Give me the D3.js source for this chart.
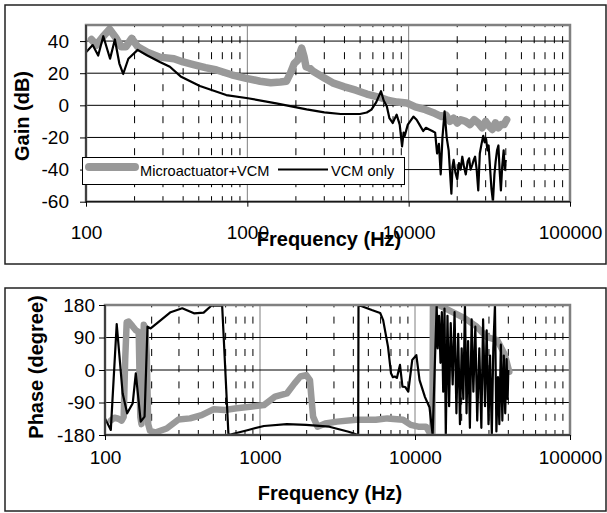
<!DOCTYPE html>
<html>
<head>
<meta charset="utf-8">
<script src="https://cdn.jsdelivr.net/npm/d3@7/dist/d3.min.js"></script>
<style>
  body { margin: 0; background: #fff; }
  text { font-family: "Liberation Sans", Arial, sans-serif; fill: #000; }
</style>
</head>
<body>
<svg id="chart" width="607" height="513"></svg>
<script>
// gain (dB) of the microactuator + VCM loop
const gainMicroFreq = [108, 116, 128, 140, 154, 165, 177, 192, 209, 240, 287, 351, 400, 463, 550, 645, 800, 985, 1200, 1397, 1600, 1749, 1850, 1951, 2050, 2170, 2250, 2310, 2450, 2570, 3000, 3380, 4000, 4700, 5500, 6600, 7500, 8500, 9700, 11000, 12700, 14500, 16000, 17000, 18000, 19000, 20000, 21000, 22500, 24000, 25500, 27000, 28500, 30000, 31500, 33000, 34500, 36000, 37500, 39000, 40500];
const gainMicro = [41, 37.5, 43, 47.3, 41.7, 36.5, 36.5, 41.7, 36.5, 33, 30, 29, 27, 25.4, 23.5, 22, 19, 16.8, 15, 14, 14.5, 15, 20, 26, 28, 35.6, 30, 24, 23, 21, 17, 14, 11.5, 9.4, 7, 5, 3, 2, 1.5, -1, -2.7, -5, -7, -6, -10, -8, -11, -9, -10, -12, -9, -11, -14, -10, -13, -15, -11, -14, -12, -12, -9];

// gain (dB) of the VCM alone
const gainVcmFreq = [100, 110, 119, 128, 141, 151, 161, 170, 183, 209, 240, 287, 331, 386, 508, 740, 1008, 1510, 2330, 3000, 3790, 4990, 5500, 5880, 6300, 6740, 7000, 7320, 7600, 7960, 8420, 8800, 9100, 9300, 9450, 9880, 10700, 11200, 11670, 12300, 12800, 13400, 14000, 14590, 15000, 15400, 15800, 16200, 16700, 17200, 17700, 18100, 18400, 18700, 19000, 19500, 20000, 20500, 21000, 21500, 22000, 22600, 23200, 23700, 24200, 24800, 25300, 25800, 26400, 27000, 27600, 28300, 29000, 29600, 30200, 30800, 31300, 32000, 32600, 33300, 34000, 34600, 35300, 36000, 36600, 37300, 38000, 38800, 39400, 40000];
const gainVcm = [33, 37.5, 31, 43, 29, 41, 26, 19.5, 29, 34.5, 31, 27, 24, 18, 12, 6.4, 4.4, 1.2, -2.5, -4.4, -5.4, -5.4, -4.5, -2.7, 2, 8.8, 3, -0.6, -8, -11, -5.8, -12, -25.6, -17, -19, -12, -7, -9, -12, -16, -14, -15, -16, -17, -30, -24, -43, -20, -3.8, -20, -28, -44, -55, -38, -34, -42, -46, -36, -40, -32, -38, -43, -35, -33, -40, -37, -34, -32, -40, -53, -30, -24, -19, -23, -21, -28, -25, -40, -52, -60, -43, -35, -28, -25, -40, -53, -38, -28, -40, -34];

// phase (degree) of the microactuator + VCM loop
const phaseMicroFreq = [109, 115, 122, 128, 132, 135, 138, 142, 150, 158, 165, 169, 172, 175, 178, 182, 186, 190, 195, 211, 250, 298, 354, 420, 500, 594, 707, 891, 1060, 1250, 1490, 1670, 1820, 1990, 2100, 2150, 2200, 2350, 2640, 3140, 4180, 5580, 6640, 8370, 9380, 10500, 11800, 12600, 12950, 13050, 14300, 16500, 21000, 25000, 28900, 33900, 38000, 40600];
const phaseMicro = [-140, -132, -135, -140, -130, 30, 132, 134, 122, 110, 105, -130, -150, 0, 125, 115, 40, -150, -168, -173, -162, -137, -134, -125, -109, -111, -106, -101, -97, -74, -65, -37, -18, -14, -28, -80, -129, -157, -148, -143, -138, -138, -134, -138, -152, -157, -157, -178, -180, 180, 180, 166, 143, 120, 92, 83, 42, -5];

// phase (degree) of the VCM alone
const phaseVcmFreq = [100, 109, 119, 130, 139, 151, 158, 170, 180, 188, 197, 223, 265, 315, 375, 433, 485, 545, 570, 626, 840, 1060, 1490, 1980, 2800, 3730, 4300, 4320, 5260, 5960, 6230, 6700, 7000, 7200, 7400, 7640, 8000, 8300, 8640, 9050, 9600, 10200, 10700, 11600, 12400, 13000, 13800, 14000, 14300, 14600, 14900, 15200, 15500, 15800, 16200, 16600, 17000, 17500, 18000, 18500, 19000, 19500, 20000, 20500, 21000, 21500, 22000, 22600, 23200, 23800, 24500, 25200, 26000, 26800, 27500, 28300, 29000, 29800, 30500, 31300, 32000, 32800, 33500, 34300, 35000, 35800, 36600, 37400, 38200, 39000, 39600, 40000];
const phaseVcm = [-134, -166, 127, -65, -120, -92, -9, -143, -129, 120, 115, 134, 160, 171, 157, 159, 178, 178, 178, -180, -166, -155, -150, -152, -157, -171, -180, 180, 166, 158, 138, 64, -9, -20, -18, -22, 14, -46, -47, -60, 28, 41, -28, -75, -103, -180, 180, 60, 150, 20, 160, -60, 170, -180, 150, -100, 130, -40, 160, -120, 100, -150, 60, -80, 180, -120, 80, -160, 140, -60, 120, -140, 60, -160, 140, -100, 110, -150, 40, -180, 60, 180, -170, -20, -150, 70, -140, 40, -120, 30, -80, 0];

const freqTicks = [100, 1000, 10000, 100000];
const gainTicks = [-60, -40, -20, 0, 20, 40];
const phaseTicks = [-180, -90, 0, 90, 180];
const seriesNames = ["Microactuator+VCM", "VCM only"];

const svg = d3.select("#chart");
const gray = "#999999";

// outer frames of the two chart objects
svg.append("rect").attr("x", 5).attr("y", 5).attr("width", 601).attr("height", 259)
  .attr("fill", "none").attr("stroke", "#222").attr("stroke-width", 1.5);
svg.append("rect").attr("x", 5).attr("y", 288).attr("width", 601).attr("height", 223)
  .attr("fill", "none").attr("stroke", "#222").attr("stroke-width", 1.5);

function drawPanel(p) {
  const x = d3.scaleLog().domain([100, 100000]).range([p.left, p.right]);
  const y = d3.scaleLinear().domain(p.yDomain).range([p.bottom, p.top]);
  const g = svg.append("g");

  // minor gridlines (dashed)
  const minors = [];
  [100, 1000, 10000].forEach(d => { for (let k = 2; k <= 9; k++) minors.push(d * k); });
  g.selectAll(".minor").data(minors).join("line")
    .attr("x1", d => x(d)).attr("x2", d => x(d))
    .attr("y1", p.bottom).attr("y2", p.top)
    .attr("stroke", "#000").attr("stroke-width", 1)
    .attr("stroke-dasharray", p.dash).attr("stroke-dashoffset", p.dashOffset);

  // major vertical gridlines
  g.selectAll(".major").data([1000, 10000]).join("line")
    .attr("x1", d => x(d)).attr("x2", d => x(d))
    .attr("y1", p.bottom).attr("y2", p.top)
    .attr("stroke", "#808080").attr("stroke-width", 1);

  // horizontal gridlines
  g.selectAll(".hgrid").data(p.yTicks).join("line")
    .attr("x1", p.left).attr("x2", p.right)
    .attr("y1", d => y(d)).attr("y2", d => y(d))
    .attr("stroke", "#000").attr("stroke-width", 1);

  const clipId = "clip" + p.id;
  svg.append("clipPath").attr("id", clipId).append("rect")
    .attr("x", p.left).attr("y", p.top - 1)
    .attr("width", p.right - p.left).attr("height", p.bottom - p.top + 2);

  const line = d3.line().x(d => x(d[0])).y(d => y(d[1]));
  const curves = g.append("g").attr("clip-path", `url(#${clipId})`);
  curves.append("path")
    .attr("d", line(d3.zip(p.grayF, p.grayV)))
    .attr("fill", "none").attr("stroke", gray).attr("stroke-width", p.grayWidth)
    .attr("stroke-linejoin", "round").attr("stroke-linecap", "round");
  curves.append("path")
    .attr("d", line(d3.zip(p.blackF, p.blackV)))
    .attr("fill", "none").attr("stroke", "#000").attr("stroke-width", 2.2)
    .attr("stroke-linejoin", "round");

  // plot area border
  g.append("rect").attr("x", p.left).attr("y", p.top)
    .attr("width", p.right - p.left).attr("height", p.bottom - p.top)
    .attr("fill", "none").attr("stroke", "#808080").attr("stroke-width", 2.5);

  // axes
  const xAxis = g.append("g").attr("transform", `translate(0,${p.bottom})`)
    .call(d3.axisBottom(x).tickValues(freqTicks).tickFormat(d3.format("d"))
      .tickSize(5).tickPadding(p.xPad));
  const yAxis = g.append("g").attr("transform", `translate(${p.left},0)`)
    .call(d3.axisLeft(y).tickValues(p.yTicks).tickFormat(d => d)
      .tickSize(6).tickPadding(p.yPad));
  [xAxis, yAxis].forEach(a => {
    a.select(".domain").attr("stroke", "#000").attr("stroke-width", 1);
    a.selectAll(".tick line").attr("stroke", "#000");
    a.selectAll("text").attr("font-size", 19).attr("font-family", "Liberation Sans, Arial, sans-serif").attr("fill", "#000");
  });
  yAxis.select(".domain").attr("d", `M0,${p.top}V${p.bottom}`);
  xAxis.select(".domain").attr("d", `M${p.left},0H${p.right}`);

  // axis titles
  g.append("text").attr("x", p.xTitleX).attr("y", p.xTitleY)
    .attr("text-anchor", "middle").attr("font-size", 20).attr("font-weight", "bold")
    .text("Frequency (Hz)");
  g.append("text")
    .attr("transform", `translate(${p.yTitleX},${p.yTitleY}) rotate(-90)`)
    .attr("text-anchor", "middle").attr("font-size", 20).attr("font-weight", "bold")
    .text(p.yTitle);
}

drawPanel({
  id: "Gain", left: 86, right: 570, top: 25, bottom: 201.7,
  yDomain: [-60, 50], yTicks: gainTicks, yTitle: "Gain (dB)",
  dash: "7,9", dashOffset: 1.5, xPad: 19, yPad: 11,
  xTitleX: 329, xTitleY: 246, yTitleX: 29, yTitleY: 116,
  grayF: gainMicroFreq, grayV: gainMicro, grayWidth: 7.5,
  blackF: gainVcmFreq, blackV: gainVcm
});

drawPanel({
  id: "Phase", left: 105, right: 570, top: 305, bottom: 435,
  yDomain: [-180, 180], yTicks: phaseTicks, yTitle: "Phase (degree)",
  dash: "7,9.2", dashOffset: 2, xPad: 11, yPad: 4,
  xTitleX: 330, xTitleY: 500, yTitleX: 43, yTitleY: 367,
  grayF: phaseMicroFreq, grayV: phaseMicro, grayWidth: 6.5,
  blackF: phaseVcmFreq, blackV: phaseVcm
});

// legend
const legend = svg.append("g").attr("id", "legend");
legend.append("rect").attr("x", 82.5).attr("y", 157.5).attr("width", 322).attr("height", 27)
  .attr("fill", "#fff").attr("stroke", "#000").attr("stroke-width", 1);
legend.append("line").attr("x1", 89).attr("x2", 135).attr("y1", 167).attr("y2", 167)
  .attr("stroke", gray).attr("stroke-width", 8).attr("stroke-linecap", "round");
legend.append("text").attr("x", 140).attr("y", 175.5).attr("font-size", 14.6).text(seriesNames[0]);
legend.append("line").attr("x1", 278).attr("x2", 328).attr("y1", 169.5).attr("y2", 169.5)
  .attr("stroke", "#000").attr("stroke-width", 2.2);
legend.append("text").attr("x", 331).attr("y", 175.5).attr("font-size", 14.6).text(seriesNames[1]);
</script>
</body>
</html>
